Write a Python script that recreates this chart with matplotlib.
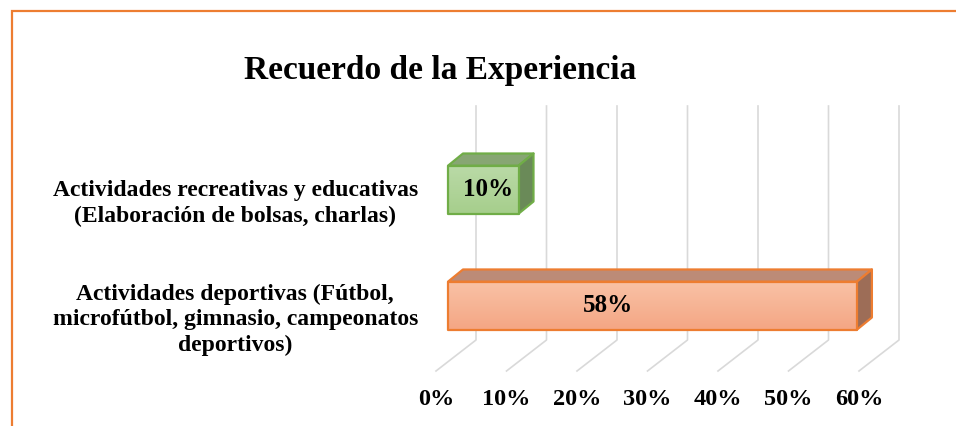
import matplotlib.pyplot as plt
import numpy as np
from matplotlib.colors import LinearSegmentedColormap
from matplotlib.patches import Polygon, Rectangle

# datos
categorias = ["Actividades deportivas (Fútbol,\nmicrofútbol, gimnasio, campeonatos\ndeportivos)",
              "Actividades recreativas y educativas\n(Elaboración de bolsas, charlas)"]
valores = [58, 10]
etiquetas = ["58%", "10%"]
ticks = [0, 10, 20, 30, 40, 50, 60]
tick_labels = ["0%", "10%", "20%", "30%", "40%", "50%", "60%"]

# estilo
frente_sup = ["#f9c2a6", "#badaa7"]
frente_inf = ["#f4a684", "#a6ce8c"]
arriba = ["#bc8b77", "#87a673"]
lado = ["#9d6d57", "#6a8a58"]
borde = ["#ed7d31", "#70ad47"]
pos_etiqueta = [22.7, 5.7]   # donde excel pone el texto dentro de la barra

plt.rcParams["font.family"] = ["Liberation Serif", "DejaVu Serif"]
plt.rcParams["font.weight"] = "bold"

W, H = 956, 426
fig = plt.figure(figsize=(W / 100, H / 100), dpi=100)

# plano frontal del grafico (en pixeles, medidos desde arriba)
x_izq, x_der, y_abajo, y_arriba = 436, 859, 371, 106
ax = fig.add_axes([x_izq / W, 1 - y_abajo / H, (x_der - x_izq) / W, (y_abajo - y_arriba) / H])
ymin, ymax = -0.483, 1.802

px_x = (x_der - x_izq) / 60.0
px_y = (y_abajo - y_arriba) / (ymax - ymin)


def fx(d):
    return d / px_x


def fy(d):
    return d * 31 / 40 / px_y


# cuadricula 3d (pared del fondo + piso)
fondo = 40
for k in ticks:
    ax.plot([k, k + fx(fondo), k + fx(fondo)], [ymin, ymin + fy(fondo), ymax],
            color="#d9d9d9", lw=1.2, clip_on=False, zorder=1)

# barras 3d
h = 0.414
d0, prof = 12, 15
grad = np.linspace(0, 1, 64).reshape(-1, 1)
for i, v in enumerate(valores):
    x0, x1 = fx(d0), v + fx(d0)
    yb, yt = i - h / 2 + fy(d0), i + h / 2 + fy(d0)
    dx, dy = fx(prof), fy(prof) * 1.05
    caras = [
        ([(x0, yt), (x1, yt), (x1 + dx, yt + dy), (x0 + dx, yt + dy)], arriba[i]),
        ([(x1, yb), (x1, yt), (x1 + dx, yt + dy), (x1 + dx, yb + dy)], lado[i]),
    ]
    for pts, c in caras:
        ax.add_patch(Polygon(pts, closed=True, fc=c, ec=borde[i], lw=1.6,
                             joinstyle="round", zorder=3, clip_on=False))
    cara = Polygon([(x0, yb), (x1, yb), (x1, yt), (x0, yt)], closed=True, fc="none",
                   ec=borde[i], lw=1.6, joinstyle="round", zorder=3.5, clip_on=False)
    ax.add_patch(cara)
    cmap = LinearSegmentedColormap.from_list("g%d" % i, [frente_inf[i], frente_sup[i]])
    im = ax.imshow(grad, extent=[x0, x1, yb, yt], origin="lower", aspect="auto",
                   cmap=cmap, zorder=3.2, interpolation="bilinear")
    im.set_clip_path(cara)
    ax.text(pos_etiqueta[i] + fx(d0), i + fy(d0), etiquetas[i], ha="center", va="center",
            fontsize=18, fontweight="bold", zorder=4)

ax.set_xlim(0, 60)
ax.set_ylim(ymin, ymax)
ax.set_xticks(ticks, tick_labels)
ax.set_yticks([0, 1], categorias)
ax.tick_params(axis="x", length=0, pad=13, labelsize=17.5)
ax.tick_params(axis="y", length=0, pad=13, labelsize=17)
for lbl in ax.get_yticklabels():
    lbl.set_multialignment("center")
    lbl.set_linespacing(1.27)
for s in ax.spines.values():
    s.set_visible(False)
ax.patch.set_visible(False)

fig.text(440 / W, 1 - 70 / H, "Recuerdo de la Experiencia", ha="center", va="center",
         fontsize=24, fontweight="bold")

# marco naranja del grafico
fig.add_artist(Rectangle((12 / W, -0.2), 2, 1.2 - 11 / H, transform=fig.transFigure,
                         fill=False, ec="#ed7d31", lw=1.6))

fig.savefig("out.png", dpi=100)
